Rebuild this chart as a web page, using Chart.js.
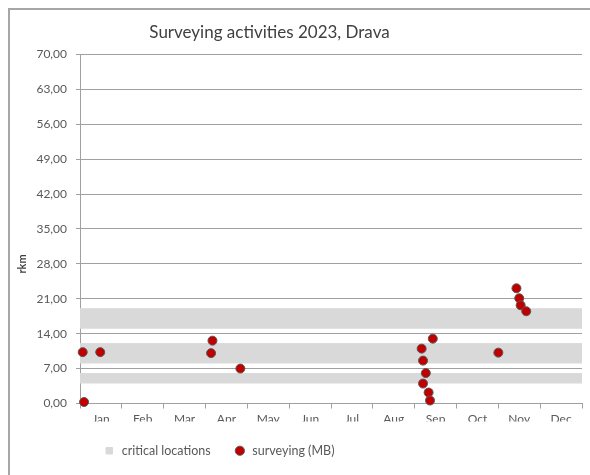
<!DOCTYPE html>
<html>
<head>
<meta charset="utf-8">
<title>Surveying activities 2023, Drava</title>
<script src="https://cdn.jsdelivr.net/npm/chart.js@4/dist/chart.umd.min.js"></script>
<style>
  html, body { margin: 0; padding: 0; background: #fff; overflow: hidden; }
  #frame {
    position: absolute; left: 8px; top: 8px; width: 700px; height: 600px;
    border-top: 2px solid #a6a6a6; border-left: 2px solid #a6a6a6;
  }
  #chart { position: absolute; left: 0; top: 0; }
</style>
</head>
<body>
<div id="frame"></div>
<canvas id="chart" width="590" height="475"></canvas>
<script>
// month labels on the x axis (one slot per month)
const months = ['Jan', 'Feb', 'Mar', 'Apr', 'May', 'Jun', 'Jul', 'Aug', 'Sep', 'Oct', 'Nov', 'Dec'];

// critical river sections, rkm from/to
const bandTop = [19, 12, 6];
const bandBottom = [15, 8, 4];

// multibeam surveys: date and river kilometre
const surveyDates = [
    '2023-01-03', '2023-01-04', '2023-01-16',
    '2023-04-06', '2023-04-05', '2023-04-26',
    '2023-09-14', '2023-09-06', '2023-09-07', '2023-09-09', '2023-09-07', '2023-09-11', '2023-09-12',
    '2023-11-01', '2023-11-14', '2023-11-16', '2023-11-17', '2023-11-21'
];
const surveyRkm = [
    10.3, 0.3, 10.3,
    12.6, 10.1, 7.0,
    13.0, 11.0, 8.6, 6.1, 4.0, 2.2, 0.6,
    10.2, 23.1, 21.1, 19.7, 18.5
];

const axisGray = '#a0a0a0';
const textGray = '#595959';
const fontFamily = 'Lato, "Liberation Sans", sans-serif';

// date -> position on a month axis (0 = 1 Jan, 12 = end of Dec)
function monthPos(s) {
    const [y, m, d] = s.split('-').map(Number);
    const daysInMonth = new Date(y, m, 0).getDate();
    return (m - 1) + (d - 1) / daysInMonth;
}

const bandSets = bandTop.map((top, i) => ({
    type: 'line',
    label: 'critical locations',
    data: [{ x: 0, y: top }, { x: 12, y: top }],
    fill: { value: bandBottom[i] },
    backgroundColor: '#d9d9d9',
    borderColor: '#d9d9d9',
    borderWidth: 1,
    pointRadius: 0,
    pointStyle: 'rect',
    order: 2
}));

const surveySet = {
    type: 'scatter',
    label: 'surveying (MB)',
    data: surveyDates.map((d, i) => ({ x: monthPos(d), y: surveyRkm[i] })),
    backgroundColor: '#c00000',
    borderColor: '#595959',
    borderWidth: 1,
    pointRadius: 4.5,
    pointStyle: 'circle',
    clip: false,
    order: 1
};

// title sits left of centre, axis title drawn lower than middle
const excelLayout = {
    id: 'excelLayout',
    afterLayout(chart) {
        chart.titleBlock.left = 0;
        chart.titleBlock.right = 539;
    },
    afterDraw(chart) {
        const ctx = chart.ctx;
        ctx.save();
        ctx.translate(22, 264);
        ctx.rotate(-Math.PI / 2);
        ctx.font = 'bold 11px ' + fontFamily;
        ctx.fillStyle = '#404040';
        ctx.textAlign = 'center';
        ctx.textBaseline = 'middle';
        ctx.fillText('rkm', 0, 0);
        ctx.restore();
    }
};

const ctx = document.getElementById('chart').getContext('2d');
const chart = new Chart(ctx, {
    type: 'scatter',
    data: { datasets: [...bandSets, surveySet] },
    plugins: [excelLayout],
    options: {
        responsive: false,
        animation: false,
        layout: { padding: { left: 0, right: 8, top: 0, bottom: 8 } },
        scales: {
            x: {
                type: 'linear',
                min: 0,
                max: 12,
                afterBuildTicks: scale => {
                    scale.ticks = [];
                    for (let i = 0; i <= months.length * 2; i++) scale.ticks.push({ value: i / 2 });
                },
                afterFit: scale => { scale.height = 18; },
                ticks: {
                    autoSkip: false,
                    maxRotation: 0,
                    padding: 3,
                    color: textGray,
                    font: { family: fontFamily, size: 12 },
                    callback: v => (v % 1 ? months[Math.floor(v)] : '')
                },
                grid: {
                    drawOnChartArea: false,
                    tickLength: 5,
                    color: c => (c.tick && c.tick.value % 1 === 0 ? axisGray : 'transparent')
                },
                border: { color: axisGray }
            },
            y: {
                min: 0,
                max: 70,
                afterFit: scale => { scale.width = 80; },
                ticks: {
                    stepSize: 7,
                    padding: 9,
                    color: textGray,
                    font: { family: fontFamily, size: 12 },
                    callback: v => v.toFixed(2).replace('.', ',')
                },
                grid: { color: axisGray, tickLength: 4 },
                border: { color: axisGray }
            }
        },
        plugins: {
            title: {
                display: true,
                text: 'Surveying activities 2023, Drava',
                color: '#404040',
                font: { family: fontFamily, size: 17, weight: 'normal' },
                padding: { top: 22, bottom: 12 }
            },
            legend: {
                position: 'bottom',
                fullSize: false,
                align: 'start',
                labels: {
                    usePointStyle: true,
                    boxHeight: 6.5,
                    padding: 23,
                    color: textGray,
                    font: { family: fontFamily, size: 12.5 },
                    sort: (a, b) => a.datasetIndex - b.datasetIndex,
                    filter: item => item.datasetIndex === 0 || item.datasetIndex === bandSets.length
                }
            },
            tooltip: { enabled: false }
        }
    }
});
</script>
</body>
</html>
